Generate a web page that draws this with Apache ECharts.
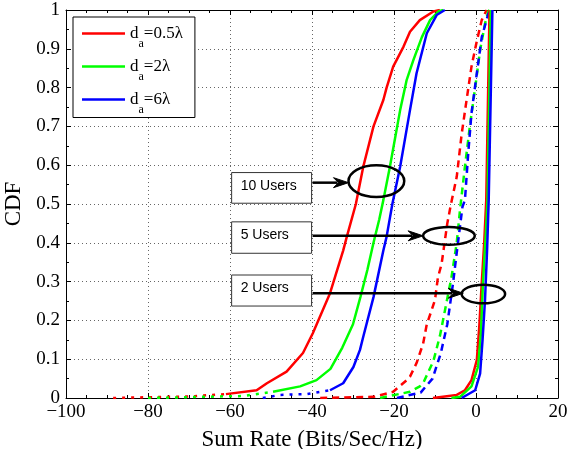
<!DOCTYPE html>
<html><head><meta charset="utf-8">
<script src="https://cdn.jsdelivr.net/npm/echarts@6/dist/echarts.min.js"></script>
<style>html,body{margin:0;padding:0;background:#fff}#c{width:570px;height:449px}</style>
</head><body><div id="c"></div><script>
// ---------- data ----------
const xTickLabels = [-100, -80, -60, -40, -20, 0, 20];
const yTickLabels = [0, 0.1, 0.2, 0.3, 0.4, 0.5, 0.6, 0.7, 0.8, 0.9, 1];
const seriesNames = ['0.5λ', '2λ', '6λ'];

// 10 users (solid) - sparse low tails drawn dotted
const red10Tail = [[-88.5,0],[-80,0.002],[-70,0.004],[-61,0.01]];
const red10 = [[-61,0.01],[-53.5,0.02],[-51,0.038],[-46.2,0.068],[-42.2,0.116],[-39.8,0.167],[-35.6,0.27],[-32.4,0.38],[-31.5,0.416],[-29.3,0.5],[-27.5,0.596],[-25.0,0.70],[-22.6,0.768],[-21.8,0.80],[-20.2,0.854],[-17.7,0.905],[-16.1,0.944],[-13.7,0.974],[-10.4,0.996],[-8.8,1]];
const green10Tail = [[-80,0],[-70,0.002],[-63,0.004],[-56.8,0.005],[-49.5,0.016]];
const green10 = [[-49.5,0.016],[-42.9,0.03],[-38.9,0.046],[-35.5,0.075],[-32.6,0.13],[-30,0.19],[-28.2,0.26],[-26.5,0.33],[-25,0.40],[-23.6,0.46],[-22.6,0.51],[-21,0.596],[-18.5,0.742],[-16.9,0.82],[-15.3,0.87],[-13.2,0.93],[-11.2,0.974],[-9.2,0.996],[-8,1]];
const blue10Tail = [[-52,0],[-47.8,0.008],[-41.3,0.01],[-35.6,0.02]];
const blue10 = [[-35.6,0.02],[-32.4,0.038],[-29.9,0.08],[-28.3,0.124],[-27.5,0.158],[-25,0.26],[-22.6,0.38],[-21.8,0.416],[-20.4,0.5],[-18.5,0.596],[-16.1,0.742],[-14.5,0.837],[-12,0.94],[-9.6,0.987],[-7.6,1]];
// 5 users (dashed)
const red5 = [[-38,0],[-25,0.003],[-20.2,0.016],[-16.9,0.046],[-16.1,0.055],[-14.5,0.09],[-12.9,0.14],[-12,0.19],[-10.8,0.227],[-10,0.253],[-9.3,0.31],[-8.4,0.345],[-7,0.45],[-6.1,0.5],[-4.7,0.57],[-3.5,0.68],[-2.3,0.768],[-1.1,0.854],[0.2,0.92],[1.4,0.974],[2.6,1]];
const green5 = [[-23.4,0],[-16.1,0.016],[-13.7,0.03],[-12.9,0.038],[-10.4,0.095],[-8.8,0.16],[-7.4,0.235],[-6,0.31],[-4.7,0.40],[-3.9,0.485],[-2.7,0.596],[-1.5,0.70],[-0.2,0.80],[1.0,0.897],[2.2,0.965],[3.0,0.996],[3.3,1]];
const blue5 = [[-19.3,0],[-13.5,0.014],[-10.6,0.05],[-8.6,0.115],[-7,0.19],[-5.6,0.296],[-4.4,0.40],[-3.3,0.493],[-2.7,0.51],[-1.9,0.63],[-1.1,0.734],[0.2,0.837],[1.4,0.93],[3.0,0.99],[3.8,1]];
// 2 users (solid, steep)
const red2 = [[-10.5,0],[-4.7,0.008],[-2.7,0.02],[-1.1,0.046],[0.2,0.098],[0.8,0.184],[1.4,0.296],[2.0,0.40],[2.5,0.51],[3.3,1]];
const green2 = [[-6,0],[-3.9,0.003],[-1.1,0.03],[0.5,0.08],[1.2,0.167],[1.7,0.296],[2.4,0.424],[2.8,0.51],[3.6,1]];
const blue2 = [[-3.5,0],[-0.2,0.02],[1.0,0.063],[1.6,0.15],[2.2,0.253],[2.7,0.38],[3.1,0.51],[4.0,1]];

// annotations (data coordinates)
const annoTexts = ['10 Users', '5 Users', '2 Users'];
const annoBoxX = [-59.6, -40.1];
const annoBoxY = [[0.502, 0.581], [0.373, 0.454], [0.237, 0.317]];
const arrowY = [0.555, 0.418, 0.27];
const arrowTipX = [-31.1, -12.9, -3.1];
const ellCenter = [[-24.3, 0.559], [-6.6, 0.418], [1.8, 0.268]];
const ellRadius = [[6.8, 0.041], [6.3, 0.023], [5.3, 0.024]];

// ---------- chart ----------
const colors = ['#ff0000', '#00ff00', '#0000ff'];
const groups = [
  { sets: [red10, green10, blue10], dash: 'solid' },
  { sets: [red10Tail, green10Tail, blue10Tail], dash: [3, 6] },
  { sets: [red5, green5, blue5], dash: [7, 5] },
  { sets: [red2, green2, blue2], dash: 'solid' }
];
const series = [];
groups.forEach(g => g.sets.forEach((d, i) => {
  series.push({
    type: 'line', name: seriesNames[i], data: d, symbol: 'none', smooth: false,
    lineStyle: { color: colors[i], width: 2.5, type: g.dash },
    itemStyle: { color: colors[i] }, silent: true, animation: false
  });
}));

const serif = 'Liberation Serif, Times New Roman, serif';
const minus = v => String(v).replace('-', '\u2212');
const tickAxisCommon = { type: 'value', min: -100, max: 20, interval: 20 };
const chart = echarts.init(document.getElementById('c'), null, { renderer: 'canvas' });
const option = {
  animation: false,
  backgroundColor: '#fff',
  grid: { left: 66, right: 12, top: 10, bottom: 51, show: false, outerBoundsMode: 'none', containLabel: false },
  legend: {
    data: seriesNames, orient: 'vertical', left: 73, top: 17,
    backgroundColor: '#fff', borderColor: '#000', borderWidth: 1,
    padding: [0.5, 12, 2, 9], itemGap: 1, itemWidth: 43, itemHeight: 2.5, icon: 'rect',
    formatter: n => '{d|d}{s|a}{n|=' + n + '}',
    textStyle: {
      rich: {
        d: { fontFamily: serif, fontSize: 17, color: '#000', lineHeight: 17 },
        s: { fontFamily: serif, fontSize: 12, color: '#000', lineHeight: 17, padding: [20, 0, 0, 0] },
        n: { fontFamily: serif, fontSize: 17, color: '#000', lineHeight: 17 }
      }
    },
    selectedMode: false
  },
  xAxis: [{
    ...tickAxisCommon, position: 'bottom',
    axisLine: { onZero: false, lineStyle: { color: '#000', width: 1 } },
    axisTick: { inside: true, length: 5, lineStyle: { color: '#000' } },
    minorTick: { show: true, splitNumber: 4, length: 3, lineStyle: { color: '#000' } },
    axisLabel: { formatter: minus, fontFamily: serif, fontSize: 19, color: '#000', margin: 5,
      customValues: xTickLabels },
    splitLine: { show: true, lineStyle: { type: [1, 3], color: '#666', width: 1 } },
    name: 'Sum Rate (Bits/Sec/Hz)', nameLocation: 'middle', nameGap: 30,
    nameTextStyle: { fontFamily: serif, fontSize: 23, color: '#000' }
  }, {
    ...tickAxisCommon, position: 'top',
    axisLine: { onZero: false, lineStyle: { color: '#000', width: 1 } },
    axisTick: { inside: true, length: 5, lineStyle: { color: '#000' } },
    minorTick: { show: true, splitNumber: 4, length: 3, lineStyle: { color: '#000' } },
    axisLabel: { show: false }, splitLine: { show: false }
  }],
  yAxis: [{
    type: 'value', min: 0, max: 1, interval: 0.1, position: 'left',
    axisLine: { onZero: false, lineStyle: { color: '#000', width: 1 } },
    axisTick: { inside: true, length: 5, lineStyle: { color: '#000' } },
    minorTick: { show: true, splitNumber: 2, length: 3, lineStyle: { color: '#000' } },
    axisLabel: { formatter: v => String(+v.toFixed(1)), fontFamily: serif, fontSize: 19, color: '#000', margin: 6,
      customValues: yTickLabels },
    splitLine: { show: true, lineStyle: { type: [1, 3], color: '#666', width: 1 } },
    name: 'CDF', nameLocation: 'middle', nameGap: 36,
    nameTextStyle: { fontFamily: serif, fontSize: 23, color: '#000' }
  }, {
    type: 'value', min: 0, max: 1, interval: 0.1, position: 'right',
    axisLine: { onZero: false, lineStyle: { color: '#000', width: 1 } },
    axisTick: { inside: true, length: 5, lineStyle: { color: '#000' } },
    minorTick: { show: true, splitNumber: 2, length: 3, lineStyle: { color: '#000' } },
    axisLabel: { show: false }, splitLine: { show: false }
  }],
  series: series
};
chart.setOption(option);

// annotations placed through the chart's own coordinate conversion
const px = p => chart.convertToPixel({ gridIndex: 0 }, p);
const graphics = [];
annoTexts.forEach((t, i) => {
  const a = px([annoBoxX[0], annoBoxY[i][1]]);
  const b = px([annoBoxX[1], annoBoxY[i][0]]);
  graphics.push({ type: 'rect', z: 100, shape: { x: a[0], y: a[1], width: b[0] - a[0], height: b[1] - a[1] },
    style: { fill: '#fff', stroke: '#333', lineWidth: 1 } });
  graphics.push({ type: 'text', z: 101, style: { text: t, x: a[0] + 9, y: (a[1] + b[1]) / 2 - 2,
    font: '14px "Liberation Sans", Arial, sans-serif', fill: '#000', verticalAlign: 'middle' } });
  const s = px([annoBoxX[1], arrowY[i]]);
  const e = px([arrowTipX[i], arrowY[i]]);
  const L = 15, W = 5;
  graphics.push({ type: 'line', z: 100, shape: { x1: s[0] + 1, y1: s[1], x2: e[0] - L + 4, y2: e[1] },
    style: { stroke: '#000', lineWidth: 2.5 } });
  graphics.push({ type: 'polygon', z: 100, shape: { points: [[e[0], e[1]], [e[0] - L, e[1] - W], [e[0] - L + 5, e[1]], [e[0] - L, e[1] + W]] },
    style: { fill: '#000', stroke: '#000', lineWidth: 1 } });
  const c = px(ellCenter[i]);
  const r = px([ellCenter[i][0] + ellRadius[i][0], ellCenter[i][1] + ellRadius[i][1]]);
  graphics.push({ type: 'ellipse', z: 100, shape: { cx: c[0], cy: c[1], rx: r[0] - c[0], ry: c[1] - r[1] },
    style: { fill: 'none', stroke: '#000', lineWidth: 2.5 } });
});
chart.setOption({ graphic: graphics });
</script></body></html>
